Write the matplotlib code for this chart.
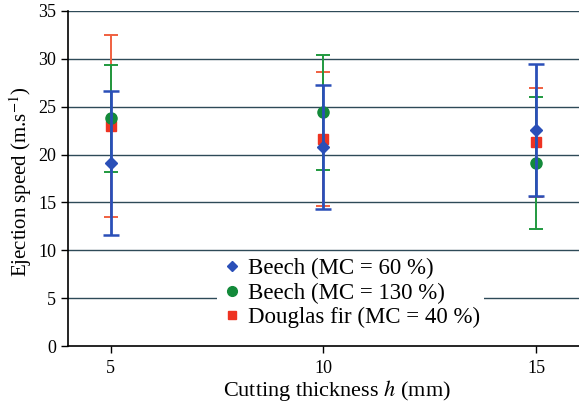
import matplotlib
matplotlib.use("Agg")
import matplotlib.pyplot as plt
from matplotlib.lines import Line2D

plt.rcParams['font.family'] = ['Liberation Serif', 'DejaVu Serif']
plt.rcParams['mathtext.fontset'] = 'stix'

thickness = [5, 10, 15]
beech60_mean = [19.1, 20.8, 22.6]
beech60_err = [7.5, 6.5, 6.9]
beech130_mean = [23.8, 24.4, 19.1]
beech130_err = [5.6, 6.0, 6.9]
douglas_mean = [23.0, 21.6, 21.3]
douglas_err = [9.5, 7.0, 5.7]

labels = ["Beech (MC = 60 %)", "Beech (MC = 130 %)", "Douglas fir (MC = 40 %)"]

fig = plt.figure(figsize=(5.79, 4.03), dpi=100)
ax = fig.add_axes([0.1174, 0.141, 0.8826, 0.832])

grid_c = '#2e4a58'
for yv in range(5, 40, 5):
    ax.axhline(yv, color=grid_c, lw=1.0, zorder=0)

ax.errorbar(thickness, douglas_mean, yerr=douglas_err, fmt='s', color='#ee3322',
            ecolor='#f06040', elinewidth=1.4, capsize=5, capthick=1.4,
            markersize=7, zorder=2)
ax.errorbar(thickness, beech130_mean, yerr=beech130_err, fmt='o', color='#138a3a',
            ecolor='#20993f', elinewidth=1.4, capsize=5, capthick=1.4,
            markersize=8, zorder=3)
ax.errorbar(thickness, beech60_mean, yerr=beech60_err, fmt='D', color='#2a4fb8',
            ecolor='#2a4fb8', elinewidth=2.0, capsize=6, capthick=1.8,
            markersize=6, zorder=4)

ax.set_xlim(4, 16)
ax.set_ylim(0, 35)
ax.set_xticks(thickness)
ax.set_yticks(range(0, 40, 5))
ax.tick_params(axis='both', direction='out', length=5, width=1, labelsize=13, colors='black')
ax.tick_params(axis='x', pad=5)
ax.spines['top'].set_visible(False)
ax.spines['right'].set_visible(False)
ax.spines['left'].set_linewidth(1.2)
ax.spines['bottom'].set_linewidth(1.2)

ax.set_xlabel("Cutting thickness $h$ (mm)", fontsize=16, labelpad=0)
ax.xaxis.set_label_coords(0.526, -0.096)
ax.set_ylabel("Ejection speed (m.s$^{-1}$)", fontsize=15, labelpad=3)
ax.yaxis.set_label_coords(-0.066, 0.49)

hb = Line2D([], [], marker='D', color='#2a4fb8', ls='none', markersize=5)
hg = Line2D([], [], marker='o', color='#138a3a', ls='none', markersize=7)
hr = Line2D([], [], marker='s', color='#ee3322', ls='none', markersize=6)
leg = ax.legend([hb, hg, hr], labels, loc='center', bbox_to_anchor=(0.553, 0.158),
                frameon=True, fontsize=16.5, handletextpad=0.2, borderpad=0.15,
                labelspacing=0.14, handlelength=1.0, borderaxespad=0)
leg.get_frame().set_facecolor('white')
leg.get_frame().set_edgecolor('none')
leg.get_frame().set_alpha(1)
leg.set_zorder(5)

fig.savefig("out.png", dpi=100)
